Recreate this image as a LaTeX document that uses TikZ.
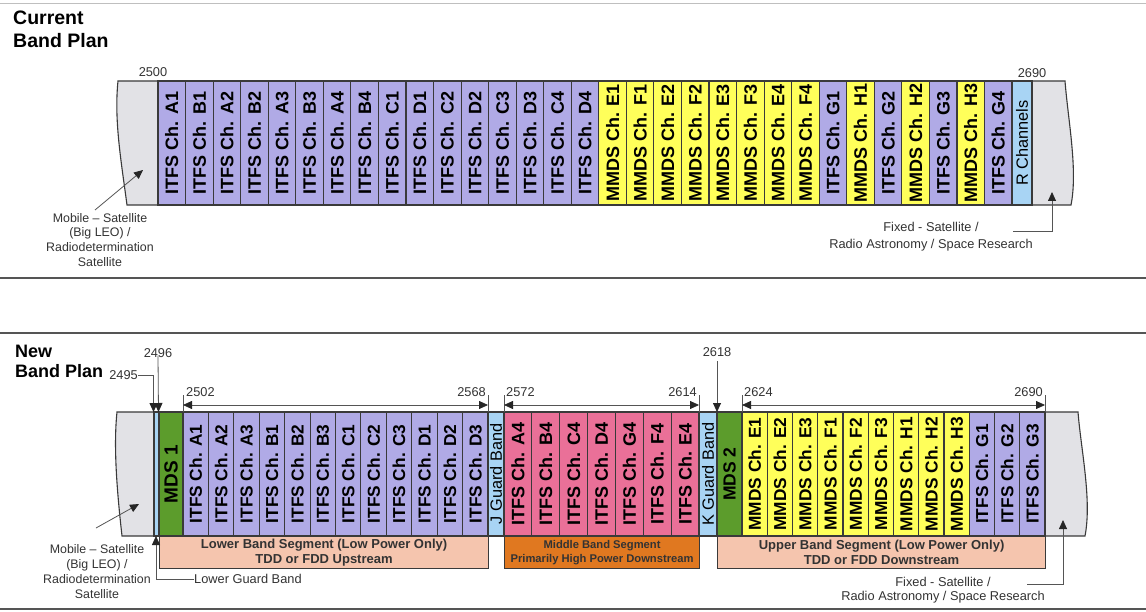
\documentclass[tikz,border=0pt]{standalone}
\usepackage{fontspec}
\setmainfont{Liberation Sans}
\usetikzlibrary{arrows.meta}
\definecolor{purp}{HTML}{B0AAE6}
\definecolor{yell}{HTML}{FFFF5A}
\definecolor{lblue}{HTML}{A8D4F4}
\definecolor{grayf}{HTML}{E2E2E6}
\definecolor{mgreen}{HTML}{5C9C2C}
\definecolor{mpink}{HTML}{EA7098}
\definecolor{salmon}{HTML}{F5C5AE}
\definecolor{morange}{HTML}{E07820}
\definecolor{bord}{HTML}{3A3A3A}
\definecolor{txt}{HTML}{333333}
\definecolor{lin}{HTML}{555555}
\begin{document}
\begin{tikzpicture}[x=1pt,y=-1pt,
  chan/.style={draw=bord,line width=1.1pt,rotate=90,minimum width=124pt,inner sep=0pt,text=black},
  bigch/.style={chan,font=\bfseries\fontsize{18}{18}\selectfont},
  smallch/.style={chan,font=\bfseries\fontsize{17.3}{18}\selectfont},
  thinch/.style={chan,font=\fontsize{16.3}{17}\selectfont},
  edge/.style={draw=bord,line width=1.1pt,fill=grayf},
  segbox/.style={draw=bord,line width=1.1pt,inner sep=0pt,minimum height=32pt,align=center,text=txt,font=\bfseries\fontsize{13}{15}\selectfont},
  annot/.style={align=center,text=txt,inner sep=0pt,font=\fontsize{12.6}{14.8}\selectfont},
  numlab/.style={text=txt,inner sep=0pt,font=\fontsize{12.8}{14}\selectfont},
  title/.style={align=left,inner sep=0pt,anchor=north west,text=black},
  rule/.style={draw=lin,line width=1.3pt},
  tipA/.tip={Triangle[length=9pt,width=8pt,color=black!85]},
  ptr/.style={draw=lin,line width=0.8pt,-tipA},
  dim/.style={draw=lin,line width=0.8pt,tipA-tipA},
  tick/.style={draw=lin,line width=0.8pt}
]
\useasboundingbox[fill=white] (0,0) rectangle (1146,612);

% rules
\draw[draw=black!25,line width=0.8pt] (0,3) -- (1146,3);
\draw[rule] (0,278) -- (1146,278);
\draw[rule] (0,333) -- (1146,333);
\draw[rule] (0,609) -- (1146,609);

% ================= CURRENT BAND PLAN =================
\node[title,font=\bfseries\fontsize{19.5}{22.5}\selectfont] (tcur) at (13,11) {Current\\Band Plan};

\path[edge] (118,81) -- (158,81) -- (158,205) -- (127,205) .. controls (121,160) and (114,120) .. (118,81) -- cycle;
\path[edge] (1032,81) -- (1065,81) .. controls (1068,120) and (1078,170) .. (1071,205) -- (1032,205) -- cycle;

\foreach \lab/\col [count=\i] in {ITFS Ch. A1/purp,ITFS Ch. B1/purp,ITFS Ch. A2/purp,ITFS Ch. B2/purp,ITFS Ch. A3/purp,ITFS Ch. B3/purp,ITFS Ch. A4/purp,ITFS Ch. B4/purp,ITFS Ch. C1/purp,ITFS Ch. D1/purp,ITFS Ch. C2/purp,ITFS Ch. D2/purp,ITFS Ch. C3/purp,ITFS Ch. D3/purp,ITFS Ch. C4/purp,ITFS Ch. D4/purp,MMDS Ch. E1/yell,MMDS Ch. F1/yell,MMDS Ch. E2/yell,MMDS Ch. F2/yell,MMDS Ch. E3/yell,MMDS Ch. F3/yell,MMDS Ch. E4/yell,MMDS Ch. F4/yell,ITFS Ch. G1/purp,MMDS Ch. H1/yell,ITFS Ch. G2/purp,MMDS Ch. H2/yell,ITFS Ch. G3/purp,MMDS Ch. H3/yell,ITFS Ch. G4/purp}
  \node[bigch,fill=\col,minimum height=27.55pt] (tc\i) at ({158+(\i-0.5)*27.55},143) {\lab};
\node[thinch,fill=lblue,minimum height=20pt] (tcR) at (1022,143) {R Channels};

\node[numlab] (n2500) at (153,72) {2500};
\node[numlab] (n2690) at (1032,73) {2690};

\node[annot,anchor=north,font=\fontsize{12.4}{14.7}\selectfont] (mobA) at (100,213) {Mobile -- Satellite\\(Big LEO) /\\Radiodetermination\\Satellite};
\coordinate (mobAt) at (95,210);
\coordinate (mobAh) at (143,170);
\draw[ptr] (mobAt) -- (mobAh);

\node[annot,anchor=north,font=\fontsize{12.8}{16.7}\selectfont] (fixA) at (931,222) {Fixed - Satellite /\\Radio Astronomy / Space Research};
\coordinate (fixAt) at (1013,231);
\coordinate (fixAc) at (1052,231);
\coordinate (fixAh) at (1052,192);
\draw[ptr] (fixAt) -- (fixAc) -- (fixAh);

% ================= NEW BAND PLAN =================
\node[title,font=\bfseries\fontsize{18}{20}\selectfont] (tnew) at (15,345) {New\\Band Plan};

\path[edge] (117,412) -- (154,412) -- (154,536) -- (122,536) .. controls (118,500) and (113,450) .. (117,412) -- cycle;
\path[edge] (1045,412) -- (1078,412) .. controls (1081,450) and (1092,500) .. (1085,536) -- (1045,536) -- cycle;

\node[chan,fill=lblue,minimum height=5pt] (lgb) at (156.5,474) {};
\node[chan,fill=mgreen,minimum height=24pt,font=\bfseries\fontsize{19}{19}\selectfont] (mds1) at (171,474) {MDS 1};

\foreach \lab [count=\i] in {A1,A2,A3,B1,B2,B3,C1,C2,C3,D1,D2,D3}
  \node[smallch,fill=purp,minimum height=25.42pt] (lo\i) at ({183+(\i-0.5)*25.42},474) {ITFS Ch. \lab};
\node[thinch,fill=lblue,minimum height=16pt] (jgb) at (496,474) {J Guard Band};
\foreach \lab [count=\i] in {A4,B4,C4,D4,G4,F4,E4}
  \node[bigch,fill=mpink,minimum height=27.86pt] (mi\i) at ({504+(\i-0.5)*27.86},474) {ITFS Ch. \lab};
\node[thinch,fill=lblue,minimum height=18pt] (kgb) at (708,474) {K Guard Band};
\node[chan,fill=mgreen,minimum height=25pt,font=\bfseries\fontsize{17.5}{18}\selectfont] (mds2) at (729.5,474) {MDS 2};
\foreach \lab/\col [count=\i] in {MMDS Ch. E1/yell,MMDS Ch. E2/yell,MMDS Ch. E3/yell,MMDS Ch. F1/yell,MMDS Ch. F2/yell,MMDS Ch. F3/yell,MMDS Ch. H1/yell,MMDS Ch. H2/yell,MMDS Ch. H3/yell,ITFS Ch. G1/purp,ITFS Ch. G2/purp,ITFS Ch. G3/purp}
  \node[smallch,fill=\col,minimum height=25.25pt] (up\i) at ({742+(\i-0.5)*25.25},474) {\lab};

% segment boxes
\node[segbox,fill=salmon,minimum width=329pt,anchor=north west] (segL) at (159,536) {Lower Band Segment (Low Power Only)\\TDD or FDD Upstream};
\node[segbox,fill=morange,minimum width=195pt,anchor=north west,font=\bfseries\fontsize{11.2}{14}\selectfont] (segM) at (504,536) {Middle Band Segment\\Primarily High Power Downstream};
\node[segbox,fill=salmon,minimum width=328pt,anchor=north west] (segU) at (717,536) {Upper Band Segment (Low Power Only)\\TDD or FDD Downstream};

% dimension lines
\foreach \name/\xx in {a/183,b/488,c/504,d/699,e/742,f/1045}{
  \coordinate (tk\name) at (\xx,395);
  \coordinate (tb\name) at (\xx,412);
  \coordinate (da\name) at (\xx,405);
  \draw[tick] (tk\name) -- (tb\name);
}
\draw[dim] (daa) -- (dab);
\draw[dim] (dac) -- (dad);
\draw[dim] (dae) -- (daf);
\node[numlab,anchor=west] (n2502) at (186,392) {2502};
\node[numlab,anchor=east] (n2568) at (486,392) {2568};
\node[numlab,anchor=west] (n2572) at (506,392) {2572};
\node[numlab,anchor=east] (n2614) at (697,392) {2614};
\node[numlab,anchor=west] (n2624) at (744,392) {2624};
\node[numlab,anchor=east] (n2690b) at (1043,392) {2690};

% 2496, 2495, 2618
\node[numlab] (n2496) at (158,353) {2496};
\coordinate (a2496h) at (158.5,412);
\draw[ptr] (n2496.south) ++(0,-2) -- (a2496h);
\node[numlab,anchor=east] (n2495) at (138,375) {2495};
\coordinate (a2495c) at (153.5,375);
\coordinate (a2495h) at (153.5,412);
\draw[ptr] (n2495.east) -- (a2495c) -- (a2495h);
\node[numlab] (n2618) at (717,352) {2618};
\coordinate (a2618t) at (717,361);
\coordinate (a2618h) at (717,412);
\draw[ptr] (a2618t) -- (a2618h);

% lower guard band
\node[annot,anchor=west,font=\fontsize{12.8}{14}\selectfont] (lgbl) at (194,579) {Lower Guard Band};
\coordinate (lgbc) at (156,579);
\coordinate (lgbh) at (156,536);
\draw[ptr] (lgbl.west) -- (lgbc) -- (lgbh);

\node[annot,anchor=north,font=\fontsize{12.4}{15}\selectfont] (mobB) at (97,544) {Mobile -- Satellite\\(Big LEO) /\\Radiodetermination\\Satellite};
\coordinate (mobBt) at (96,528);
\coordinate (mobBh) at (139,504);
\draw[ptr] (mobBt) -- (mobBh);

\node[annot,anchor=north,font=\fontsize{12.8}{14.5}\selectfont] (fixB) at (943,577) {Fixed - Satellite /\\Radio Astronomy / Space Research};
\coordinate (fixBt) at (1027,584);
\coordinate (fixBc) at (1063,584);
\coordinate (fixBh) at (1063,520);
\draw[ptr] (fixBt) -- (fixBc) -- (fixBh);
\end{tikzpicture}
\end{document}
